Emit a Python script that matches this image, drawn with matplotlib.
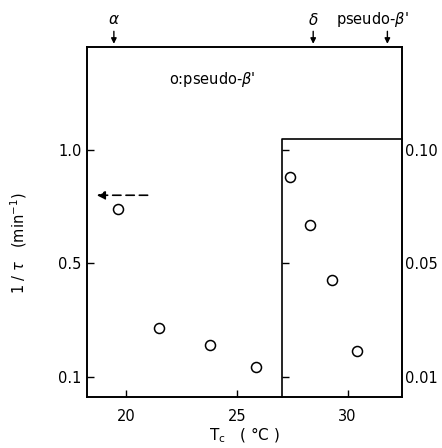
import numpy as np
import matplotlib
matplotlib.use("Agg")
import matplotlib.pyplot as plt

# data
tc_left = [19.65, 21.5, 23.8, 25.85]
rate_left = [0.74, 0.27, 0.21, 0.135]      # left scale (min^-1)
tc_right = [27.4, 28.3, 29.3, 30.45]
rate_right = [0.088, 0.067, 0.044, 0.019]  # right scale (min^-1)

left_ticks = [0.1, 0.5, 1.0]
left_labels = ["0.1", "0.5", "1.0"]
right_ticks = [0.01, 0.05, 0.10]
right_labels = ["0.01", "0.05", "0.10"]
x_ticks = [20, 25, 30]

arrow_x = [19.45, 28.45, 31.8]
arrow_labels = [r"$\alpha$", r"$\delta$", r"pseudo-$\beta$'"]


# the original axis is piecewise linear: 0.1-0.5 and 0.5-1.0 take equal length
def make_scale(lo, mid, hi):
    def fwd(v):
        v = np.asarray(v, dtype=float)
        return np.where(v < mid, (v - lo) / (mid - lo) * 0.5,
                        0.5 + (v - mid) / (hi - mid) * 0.5)

    def inv(p):
        p = np.asarray(p, dtype=float)
        return np.where(p < 0.5, lo + p / 0.5 * (mid - lo),
                        mid + (p - 0.5) / 0.5 * (hi - mid))
    return fwd, inv


fwd_l, inv_l = make_scale(0.1, 0.5, 1.0)
fwd_r, inv_r = make_scale(0.01, 0.05, 0.10)

plt.rcParams['font.family'] = ['DejaVu Sans']
plt.rcParams['mathtext.fontset'] = 'dejavusans'

fig = plt.figure(figsize=(4.42, 4.48), dpi=100)
ax = fig.add_axes([0.197, 0.114, 0.712, 0.782])
ax.set_yscale('function', functions=(fwd_l, inv_l))
ax.set_xlim(18.24, 32.45)
ax.set_ylim(float(inv_l(-0.09)), float(inv_l(1.456)))

ax.scatter(tc_left, rate_left, s=52, facecolors='white', edgecolors='black',
           linewidths=1.1, zorder=3)

ax.set_xticks(x_ticks)
ax.set_xticklabels([str(t) for t in x_ticks])
ax.set_yticks(left_ticks)
ax.set_yticklabels(left_labels)
ax.tick_params(direction='in', length=5, width=1, labelsize=10.5, pad=4)
ax.tick_params(axis='x', pad=9)
ax.minorticks_off()
for s in ax.spines.values():
    s.set_linewidth(1.2)

# right-hand scale for the inset
ax2 = ax.twinx()
ax2.set_yscale('function', functions=(fwd_r, inv_r))
ax2.set_ylim(float(inv_r(-0.09)), float(inv_r(1.456)))
ax2.scatter(tc_right, rate_right, s=52, facecolors='white', edgecolors='black',
            linewidths=1.1, zorder=3)
ax2.set_yticks(right_ticks)
ax2.set_yticklabels(right_labels)
ax2.tick_params(length=0, labelsize=10.5, pad=2)
ax2.minorticks_off()
for s in ax2.spines.values():
    s.set_linewidth(1.2)

# inset frame
box_x = 27.03
box_top = 0.105
ax2.plot([box_x, box_x, 32.45], [inv_r(-0.09), box_top, box_top],
         color='black', lw=1.2, clip_on=False)
ax2.plot([box_x] * len(right_ticks), right_ticks, ls='none', marker=1,
         ms=5, mew=1, color='black')

# dashed arrow pointing to left axis
ax.annotate("", xy=(18.55, 0.8), xytext=(21.1, 0.8),
            arrowprops=dict(arrowstyle='-|>', ls=(0, (5, 3)), lw=1.2,
                            color='black', mutation_scale=12))

ax.text(23.9, inv_l(1.31), r"o:pseudo-$\beta$'", ha='center', va='center',
        fontsize=10.5)

# arrows at top for transition temps
top = float(inv_l(1.456))
for xa in arrow_x:
    ax.annotate("", xy=(xa, top), xycoords='data',
                xytext=(0, 13), textcoords='offset points',
                arrowprops=dict(arrowstyle='-|>', lw=1.0, color='black',
                                mutation_scale=8), annotation_clip=False)
label_y = float(inv_l(1.575))
ax.text(arrow_x[0], label_y, arrow_labels[0], ha='center', va='center',
        fontsize=11)
ax.text(arrow_x[1], label_y, arrow_labels[1], ha='center', va='center',
        fontsize=11)
ax.text(31.1, label_y, arrow_labels[2], ha='center', va='center',
        fontsize=10.5)

ax.set_ylabel(r"1 / $\tau$   (min$^{-1}$)", fontsize=10.5)
ax.yaxis.set_label_coords(-0.185, 0.44)
ax.set_xlabel(r"T$_{\rm c}$   ( °C )", fontsize=11, labelpad=1)

fig.savefig("out.png", dpi=100)
